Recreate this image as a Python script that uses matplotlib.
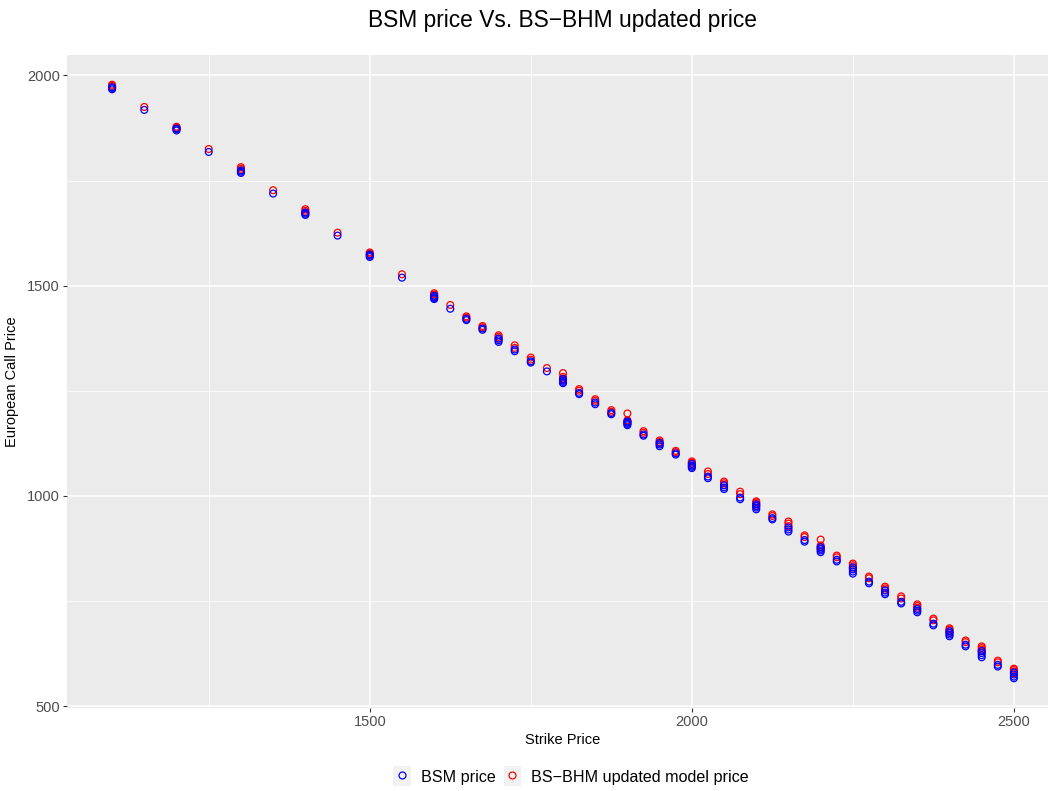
import matplotlib.pyplot as plt
from matplotlib.legend_handler import HandlerLine2D
from matplotlib.lines import Line2D
from matplotlib.patches import Rectangle
from matplotlib.ticker import MultipleLocator
import numpy as np

plt.rcParams['font.family'] = ['Liberation Sans', 'DejaVu Sans']

# strike prices and the call prices observed at each strike (one value per maturity)
strikes = [1100, 1150, 1200, 1250, 1300, 1350, 1400, 1450, 1500, 1550,
           1600, 1625, 1650, 1675, 1700, 1725, 1750, 1775, 1800, 1825,
           1850, 1875, 1900, 1925, 1950, 1975, 2000, 2025, 2050, 2075,
           2100, 2125, 2150, 2175, 2200, 2225, 2250, 2275, 2300, 2325,
           2350, 2375, 2400, 2425, 2450, 2475, 2500]

bsm_price = [
    [1967, 1970, 1972], [1918], [1869, 1872, 1874], [1818], [1768, 1771, 1774],
    [1719], [1668, 1671, 1674], [1619], [1568, 1571, 1574], [1519],
    [1468, 1470, 1473, 1476], [1445], [1418, 1421], [1395, 1398], [1366, 1370, 1374],
    [1344, 1348], [1317, 1320], [1296], [1268, 1271, 1274, 1278], [1242, 1245],
    [1218, 1222], [1194, 1197], [1168, 1171, 1174, 1177], [1143, 1146], [1118, 1122, 1126],
    [1098, 1101], [1066, 1069, 1072, 1076], [1042, 1046], [1016, 1020, 1025], [992, 996],
    [968, 972, 976, 980], [944, 947], [915, 920, 925], [891, 895], [866, 870, 874, 878],
    [844, 848], [815, 820, 825, 830], [792, 796], [766, 770, 775], [744, 748],
    [723, 727, 731], [692, 696], [666, 670, 674, 678], [642, 646], [616, 621, 626, 631],
    [594, 598], [566, 570, 575, 580],
]

bhm_price = [
    [1972, 1975, 1978], [1925], [1873, 1876, 1878], [1825], [1774, 1778, 1782],
    [1727], [1674, 1678, 1682], [1626], [1573, 1576, 1579], [1527],
    [1473, 1476, 1479, 1482], [1454], [1424, 1427], [1401, 1404], [1374, 1378, 1382],
    [1352, 1358], [1324, 1329], [1304], [1276, 1279, 1283, 1292], [1250, 1254],
    [1226, 1230], [1200, 1204], [1174, 1177, 1180, 1196], [1150, 1154], [1124, 1128, 1132],
    [1104, 1107], [1072, 1076, 1079, 1082], [1052, 1058], [1026, 1030, 1034], [1004, 1010],
    [976, 980, 984, 987], [952, 956], [928, 934, 939], [902, 906], [874, 878, 882, 896],
    [854, 858], [826, 830, 835, 839], [804, 808], [776, 780, 784], [756, 761],
    [734, 738, 742], [704, 708], [674, 678, 682, 685], [652, 656], [630, 634, 638, 642],
    [604, 608], [578, 582, 586, 589],
]

x_obs = np.concatenate([[k] * len(v) for k, v in zip(strikes, bsm_price)])
y_bsm = np.concatenate(bsm_price)
y_bhm = np.concatenate(bhm_price)

fig = plt.figure(figsize=(10.48, 7.91), dpi=100)
ax = fig.add_axes([67 / 1048, 1 - 708 / 791, 992 / 1048, 653 / 791])
ax.set_facecolor('#EBEBEB')

ax.scatter(x_obs, y_bhm, s=24, facecolors='none', edgecolors='red', linewidths=0.9, zorder=3)
ax.scatter(x_obs, y_bsm, s=24, facecolors='none', edgecolors='blue', linewidths=0.9, zorder=4)

# ggplot-style 5% padding
xr = max(strikes) - min(strikes)
ax.set_xlim(min(strikes) - 0.05 * xr, max(strikes) + 0.05 * xr)
ylo = min(y_bsm.min(), y_bhm.min())
yhi = max(y_bsm.max(), y_bhm.max())
ax.set_ylim(ylo - 0.05 * (yhi - ylo), yhi + 0.05 * (yhi - ylo))

ax.xaxis.set_major_locator(MultipleLocator(500))
ax.xaxis.set_minor_locator(MultipleLocator(250))
ax.yaxis.set_major_locator(MultipleLocator(500))
ax.yaxis.set_minor_locator(MultipleLocator(250))
ax.grid(which='major', color='white', linewidth=1.1)
ax.grid(which='minor', color='white', linewidth=0.55)
ax.set_axisbelow(True)
for sp in ax.spines.values():
    sp.set_visible(False)
ax.tick_params(which='major', length=3, width=0.8, color='#333333',
               labelcolor='#4D4D4D', labelsize=10.5, pad=2)
ax.tick_params(which='minor', length=0)

ax.set_xlabel('Strike Price', fontsize=10.5, labelpad=3)
ax.set_ylabel('European Call Price', fontsize=10.5, labelpad=6)
ax.set_title('BSM price Vs. BS\u2212BHM updated price', fontsize=16.4, pad=20)


class KeyHandler(HandlerLine2D):
    def create_artists(self, legend, orig_handle, xdescent, ydescent,
                       width, height, fontsize, trans):
        arts = super().create_artists(legend, orig_handle, xdescent, ydescent,
                                      width, height, fontsize, trans)
        bg = Rectangle((-xdescent, -ydescent - 2), width, height + 4,
                       facecolor='#F2F2F2', edgecolor='none', transform=trans)
        return [bg] + arts


handles = [
    Line2D([], [], ls='none', marker='o', ms=5, mfc='none', mec='blue', mew=0.9),
    Line2D([], [], ls='none', marker='o', ms=5, mfc='none', mec='red', mew=0.9),
]
fig.legend(handles, ['BSM price', 'BS\u2212BHM updated model price'],
           loc='center', bbox_to_anchor=(571 / 1048, 1 - 777 / 791), ncol=2,
           frameon=False, fontsize=11.6, handlelength=1.1, handleheight=1.0,
           handletextpad=0.6, columnspacing=0.5,
           handler_map={Line2D: KeyHandler(numpoints=1)})

fig.savefig('out.png', dpi=100)
